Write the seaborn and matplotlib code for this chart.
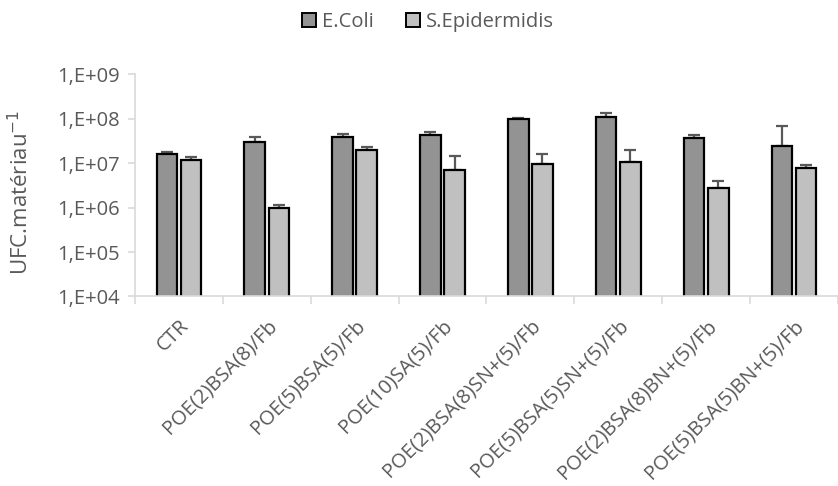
import numpy as np
import pandas as pd
import matplotlib.pyplot as plt
import seaborn as sns
from matplotlib.patches import Patch

plt.switch_backend('agg')

# ==========================
# Data
# ==========================
CATEGORIES = ["CTR", "POE(2)BSA(8)/Fb", "POE(5)BSA(5)/Fb", "POE(10)SA(5)/Fb",
              "POE(2)BSA(8)SN+(5)/Fb", "POE(5)BSA(5)SN+(5)/Fb",
              "POE(2)BSA(8)BN+(5)/Fb", "POE(5)BSA(5)BN+(5)/Fb"]
ECOLI = [1.65e7, 3.0e7, 3.9e7, 4.3e7, 1.0e8, 1.12e8, 3.7e7, 2.5e7]
ECOLI_ERR = [0.15e7, 0.8e7, 0.6e7, 0.7e7, 0.03e8, 0.2e8, 0.7e7, 4.4e7]
SEPI = [1.17e7, 1.0e6, 1.95e7, 6.9e6, 9.6e6, 1.07e7, 2.8e6, 7.8e6]
SEPI_ERR = [0.23e7, 0.15e6, 0.35e7, 7.9e6, 6.2e6, 8.8e6, 1.2e6, 1.1e6]
SERIES = ["E.Coli", "S.Epidermidis"]
COLORS = ["#939393", "#c0c0c0"]

TEXT = "#595959"
AXIS = "#d9d9d9"

df = pd.DataFrame({
    "cat": CATEGORIES * 2,
    "val": ECOLI + SEPI,
    "err": ECOLI_ERR + SEPI_ERR,
    "series": [SERIES[0]] * len(CATEGORIES) + [SERIES[1]] * len(CATEGORIES),
})

sns.set_style("white")
plt.rcParams['font.family'] = ['Open Sans', 'DejaVu Sans']

fig = plt.figure(figsize=(8.38, 4.86), dpi=100)
ax = fig.add_axes([0.161, 0.390, 0.839, 0.457])

sns.barplot(data=df, x="cat", y="val", hue="series", palette=COLORS,
            width=0.55, gap=0.15, errorbar=None, edgecolor="black",
            linewidth=1.6, legend=False, ax=ax, zorder=2)
ax.set_yscale("log")
ax.set_ylim(1e4, 1e9)
ax.set_xlim(-0.5, 7.38)

# upper-only error bars, centred on the drawn bars
for i, (vals, errs) in enumerate([(ECOLI, ECOLI_ERR), (SEPI, SEPI_ERR)]):
    cont = ax.containers[i]
    xs = [p.get_x() + p.get_width() / 2 for p in cont.patches]
    ax.errorbar(xs, vals, yerr=[np.zeros(len(errs)), errs], fmt="none",
                ecolor=TEXT, elinewidth=1.6, capsize=4, capthick=1.6, zorder=1)

# axes styling
for s in ["top", "right"]:
    ax.spines[s].set_visible(False)
for s in ["left", "bottom"]:
    ax.spines[s].set_color(AXIS)
    ax.spines[s].set_linewidth(1.2)
ax.set_yticks([1e4, 1e5, 1e6, 1e7, 1e8, 1e9])
ax.set_yticklabels(["1,E+04", "1,E+05", "1,E+06", "1,E+07", "1,E+08", "1,E+09"])
ax.yaxis.set_minor_locator(plt.NullLocator())
ax.tick_params(axis="y", which="major", length=5, color=AXIS, width=1.2,
               labelsize=14.5, labelcolor=TEXT, pad=6, left=True)
ax.set_xticks(range(len(CATEGORIES)))
ax.set_xticklabels(CATEGORIES, rotation=45, ha="right", rotation_mode="anchor")
ax.set_xticks(np.arange(-0.5, len(CATEGORIES), 1.0), minor=True)
ax.tick_params(axis="x", which="major", length=0, labelsize=14.5,
               labelcolor=TEXT, pad=14)
ax.tick_params(axis="x", which="minor", length=6, color=AXIS, width=1.2,
               bottom=True)
ax.set_xlabel("")
ax.set_ylabel("UFC.matériau$^{-1}$", fontsize=16, color=TEXT)
ax.yaxis.set_label_coords(-0.145, 0.47)
ax.grid(False)

handles = [Patch(facecolor=c, edgecolor="black", linewidth=1.4) for c in COLORS]
fig.legend(handles, SERIES, loc="center", bbox_to_anchor=(0.511, 0.955), ncol=2,
           frameon=False, fontsize=14.5, labelcolor=TEXT, handlelength=0.7,
           handleheight=0.7, handletextpad=0.3, columnspacing=1.6)

fig.savefig("out.png", dpi=100)
